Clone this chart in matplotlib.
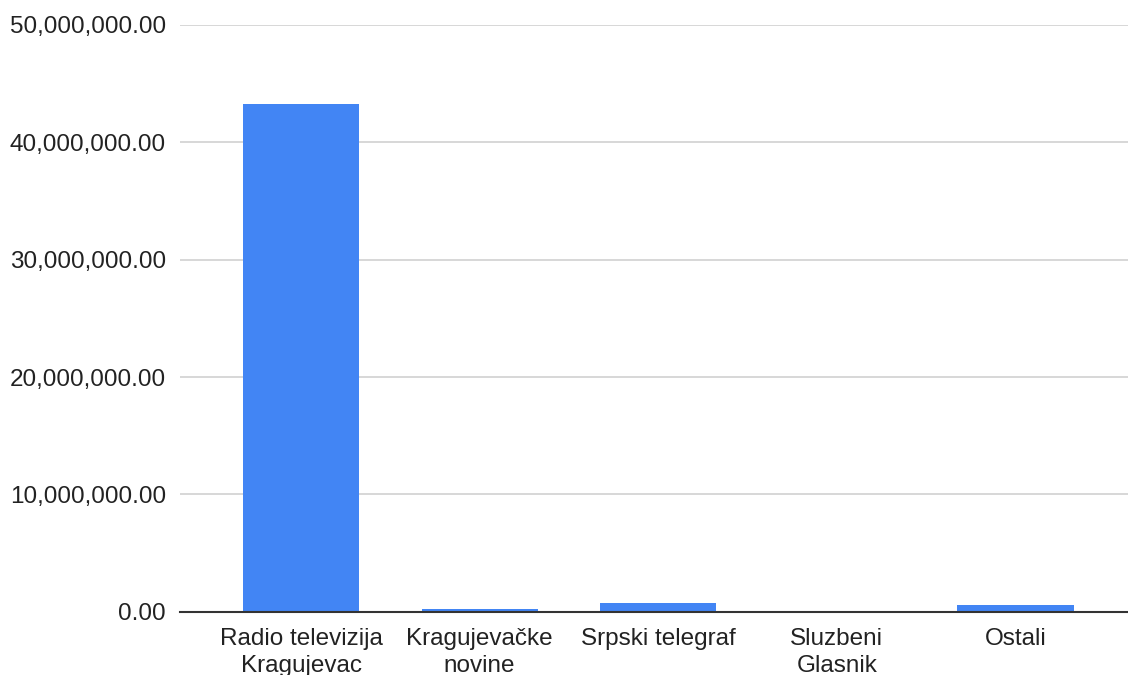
import numpy as np
import matplotlib
matplotlib.use("Agg")
import matplotlib.pyplot as plt
from matplotlib.ticker import FuncFormatter

# data
categories = ["Radio televizija\nKragujevac", "Kragujevačke\nnovine", "Srpski telegraf",
              "Sluzbeni\nGlasnik", "Ostali"]
values = [43250000, 200000, 760000, 0, 580000]
y_ticks = [0, 10000000, 20000000, 30000000, 40000000, 50000000]

plt.rcParams['font.family'] = ['Liberation Sans', 'DejaVu Sans']

fig = plt.figure(figsize=(11.28, 6.75), dpi=100)
ax = fig.add_axes([180 / 1128, (675 - 611.7) / 675, 948 / 1128, (611.7 - 25) / 675])

x = np.arange(len(categories))
ax.bar(x, values, width=0.65, color="#4285F4", zorder=3)

ax.set_xlim(-0.6775, 4.63)
ax.set_ylim(0, 50000000)
ax.set_yticks(y_ticks)
ax.yaxis.set_major_formatter(FuncFormatter(lambda v, p: f"{v:,.2f}"))
ax.set_xticks(x)
ax.set_xticklabels(categories, linespacing=1.3)

ax.grid(axis="y", color="#d4d4d4", linewidth=1.3, zorder=0)
ax.tick_params(axis="both", length=0, labelsize=17.5, colors="#222222")
ax.tick_params(axis="y", pad=10)
ax.tick_params(axis="x", pad=12)

for s in ["top", "right", "left"]:
    ax.spines[s].set_visible(False)
ax.spines["bottom"].set_color("#333333")
ax.spines["bottom"].set_linewidth(1.5)
ax.spines["bottom"].set_zorder(4)

fig.savefig("out.png", dpi=100)
